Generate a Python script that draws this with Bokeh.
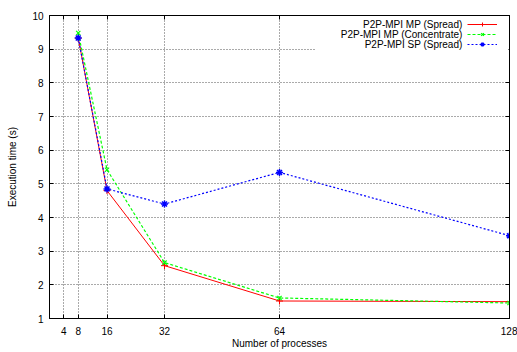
from bokeh.plotting import figure
from bokeh.models import Legend, LegendItem, Label, BoxAnnotation, FixedTicker, Range1d, LinearAxis
from bokeh.embed import file_html
from bokeh.resources import INLINE

# ---- data ----
procs = [8, 16, 32, 64, 128]
mp_spread = [9.33, 4.80, 2.57, 1.52, 1.50]
mp_concentrate = [9.48, 5.42, 2.66, 1.61, 1.46]
sp_spread = [9.33, 4.85, 4.40, 5.34, 3.46]
x_ticks = [4, 8, 16, 32, 64, 128]
y_ticks = [1, 2, 3, 4, 5, 6, 7, 8, 9, 10]
series_names = ["P2P-MPI MP (Spread)", "P2P-MPI MP (Concentrate)", "P2P-MPI SP (Spread)"]

FONT = "Liberation Sans"

p = figure(width=517, height=352, output_backend="svg", toolbar_location=None,
           x_range=Range1d(0, 128), y_range=Range1d(1, 10),
           min_border_left=49, min_border_right=8, min_border_top=15, min_border_bottom=34)
p.background_fill_color = "white"
p.border_fill_color = "white"
p.outline_line_color = "black"
p.outline_line_width = 1
p.outline_line_alpha = 1

# mirror ticks (no labels) on top and right, like gnuplot
top_axis = LinearAxis(ticker=FixedTicker(ticks=x_ticks))
right_axis = LinearAxis(ticker=FixedTicker(ticks=y_ticks))
for ax in (top_axis, right_axis):
    ax.major_label_text_font_size = "0px"
    ax.major_label_standoff = 0
    ax.major_label_text_alpha = 0
p.add_layout(top_axis, "above")
p.add_layout(right_axis, "right")

p.xaxis.ticker = FixedTicker(ticks=x_ticks)
p.yaxis.ticker = FixedTicker(ticks=y_ticks)
top_axis.ticker = FixedTicker(ticks=x_ticks)
right_axis.ticker = FixedTicker(ticks=y_ticks)
for ax in p.xaxis + p.yaxis:
    ax.axis_line_color = "black"
    ax.major_tick_in = 4
    ax.major_tick_out = 0
    ax.minor_tick_line_color = None
    ax.major_tick_line_color = "black"
    ax.major_label_text_font = FONT
    ax.major_label_text_color = "black"
    ax.axis_label_text_font = FONT
    ax.axis_label_text_font_size = "10px"
    ax.axis_label_text_font_style = "normal"
    ax.axis_label_text_color = "black"

bottom_axis = p.below[0]
left_axis = p.left[0]
for ax in (bottom_axis, left_axis):
    ax.major_label_text_font_size = "10px"
bottom_axis.axis_label = "Number of processes"
left_axis.axis_label = "Execution time (s)"
bottom_axis.major_label_standoff = 8
bottom_axis.axis_label_standoff = 0
left_axis.major_label_standoff = 6
left_axis.axis_label_standoff = 11

p.grid.grid_line_color = "#555555"
p.grid.grid_line_dash = "1 2"
p.grid.grid_line_width = 1

r1 = p.line(procs, mp_spread, line_color="red", line_width=1)
s1 = p.scatter(procs, mp_spread, marker="cross", size=7, line_color="red", line_width=1)
r2 = p.line(procs, mp_concentrate, line_color="#00ff00", line_width=1.2, line_dash="3 2")
s2 = p.scatter(procs, mp_concentrate, marker="x", size=6, line_color="#00ff00", line_width=1.2)
r3 = p.line(procs, sp_spread, line_color="blue", line_width=1.2, line_dash="2 2")
s3 = p.scatter(procs, sp_spread, marker="asterisk", size=7, line_color="blue", line_width=1.5)

# white area behind the key (gnuplot clears the key box)
p.add_layout(BoxAnnotation(left=266, right=459, top=302, bottom=265,
                           left_units="screen", right_units="screen",
                           top_units="screen", bottom_units="screen",
                           fill_color="white", fill_alpha=1, line_color=None))

legend = Legend(items=[LegendItem(label=" ", renderers=[r1, s1]),
                       LegendItem(label=" ", renderers=[r2, s2]),
                       LegendItem(label=" ", renderers=[r3, s3])],
                location=(418, 269), glyph_width=30, glyph_height=10, spacing=0,
                padding=0, margin=0, label_standoff=0, label_width=1, label_height=10,
                label_text_font_size="2px",
                border_line_color=None, background_fill_alpha=0)
p.add_layout(legend, "center")

for i, name in enumerate(series_names):
    p.add_layout(Label(x=413, y=294 - 10 * i, x_units="screen", y_units="screen",
                       text=name, text_align="right", text_baseline="middle",
                       text_font=FONT, text_font_size="10px", text_color="black"))

open("out.html", "w").write(file_html(p, INLINE))
